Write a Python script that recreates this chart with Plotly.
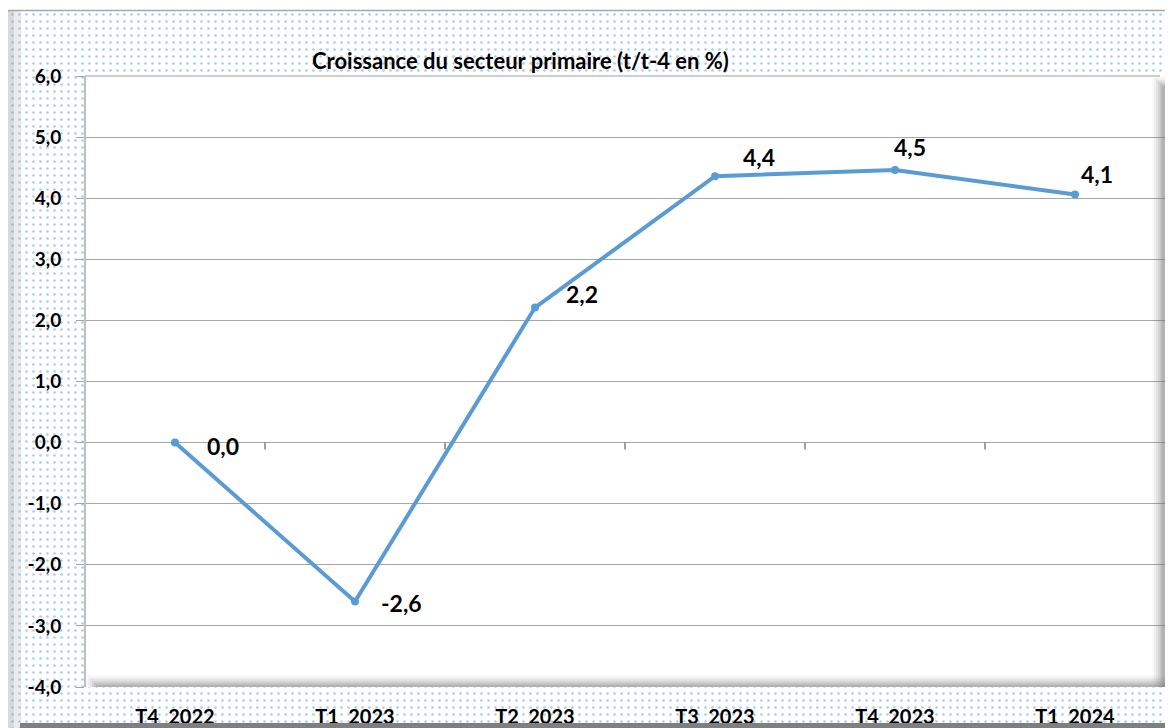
import plotly.graph_objects as go

# --- data ---
quarters = ["T4_2022", "T1_2023", "T2_2023", "T3_2023", "T4_2023", "T1_2024"]
growth = [0.0, -2.6, 2.21, 4.36, 4.46, 4.06]
y_ticks = [-4, -3, -2, -1, 0, 1, 2, 3, 4, 5, 6]
y_tick_text = [f"{v:.1f}".replace(".", ",") for v in y_ticks]
labels = [f"{v:.1f}".replace(".", ",") for v in growth]
title_text = "Croissance du secteur primaire (t/t-4 en %)"

# label offsets in pixels (dx, dy up)
label_dx = [48, 46, 47, 44, 15, 22]
label_dy = [-3, -2, 14, 19, 23, 21]

W, H = 1173, 728
OFF = 8  # the page body has an 8px margin
FONT = "Lato"
BLUE = "#5B9BD5"
GRID = "#A6A6A6"


def px(x):
    return (x - OFF) / W


def py(y):
    return 1 - (y - OFF) / H


fig = go.Figure()

# dotted chart-area background (drawn on a full-size helper subplot)
fig.add_trace(go.Bar(
    x=[0], y=[1], width=[1], xaxis="x", yaxis="y",
    marker=dict(color="white", line=dict(width=0),
                pattern=dict(shape=".", fgcolor="#4F95DD", bgcolor="white",
                             size=7, solidity=0.11)),
    hoverinfo="skip", showlegend=False,
))

# the series
fig.add_trace(go.Scatter(
    x=quarters, y=growth, xaxis="x2", yaxis="y2",
    mode="lines+markers",
    line=dict(color=BLUE, width=4),
    marker=dict(color=BLUE, size=8),
    showlegend=False,
))

annotations = [
    dict(x=q, y=v, xref="x2", yref="y2", text=t, showarrow=False,
         xshift=dx, yshift=dy, font=dict(family=FONT, size=23, color="black",
                                         weight="bold"))
    for q, v, t, dx, dy in zip(quarters, growth, labels, label_dx, label_dy)
]
annotations.append(dict(
    x=px(520), y=py(45), xref="paper", yref="paper", text=title_text,
    showarrow=False, font=dict(family=FONT, size=22, color="black", weight="bold"),
))

shapes = []
# small tick marks on the zero line between categories
for i in range(len(quarters) - 1):
    shapes.append(dict(type="line", xref="x2", yref="y2", x0=i + 0.5, x1=i + 0.5,
                       ysizemode="pixel", yanchor=0, y0=0, y1=-7,
                       line=dict(color="#808080", width=1.5), layer="above"))

# plot-area frame / soft shadow
for k, op in enumerate([0.08, 0.14, 0.2, 0.28, 0.36, 0.45]):
    shapes.append(dict(type="rect", xref="paper", yref="paper",
                       x0=px(1152 + 2 * k), x1=px(1165), y0=py(687), y1=py(76 + 2 * k),
                       fillcolor=f"rgba(120,120,120,{op / 2})", line_width=0, layer="above"))
    shapes.append(dict(type="rect", xref="paper", yref="paper",
                       x0=px(86 + 2 * k), x1=px(1165), y0=py(687), y1=py(675 + 2 * k),
                       fillcolor=f"rgba(120,120,120,{op / 2})", line_width=0, layer="above"))
shapes.append(dict(type="line", xref="paper", yref="paper", x0=px(85), x1=px(1160),
                   y0=py(76), y1=py(76), line=dict(color="#BFBFBF", width=1.5), layer="above"))
shapes.append(dict(type="line", xref="paper", yref="paper", x0=px(85), x1=px(85),
                   y0=py(76), y1=py(687), line=dict(color="#BFBFBF", width=2), layer="above"))

# outer chart frame
shapes.append(dict(type="line", xref="paper", yref="paper", x0=px(8), x1=px(1173),
                   y0=py(10.5), y1=py(10.5), line=dict(color="#A6A6A6", width=1.5), layer="above"))
shapes.append(dict(type="rect", xref="paper", yref="paper", x0=px(8), x1=px(14),
                   y0=py(728), y1=py(11), fillcolor="rgba(170,170,170,0.45)", line_width=0, layer="above"))
shapes.append(dict(type="rect", xref="paper", yref="paper", x0=px(14), x1=px(21),
                   y0=py(728), y1=py(11), fillcolor="rgba(190,190,190,0.3)", line_width=0, layer="above"))
shapes.append(dict(type="rect", xref="paper", yref="paper", x0=px(1166), x1=px(1171),
                   y0=py(728), y1=py(12), fillcolor="#7F7F7F", line_width=0, layer="above"))
shapes.append(dict(type="rect", xref="paper", yref="paper", x0=px(20), x1=px(1171),
                   y0=py(728), y1=py(723), fillcolor="#7F7F7F", line_width=0, layer="above"))

fig.update_layout(
    width=W, height=H,
    margin=dict(l=0, r=0, t=0, b=0, pad=0),
    paper_bgcolor="white", plot_bgcolor="white",
    font=dict(family=FONT, color="black"),
    showlegend=False,
    xaxis=dict(domain=[px(9), 1], range=[-0.5, 0.5], visible=False,
               fixedrange=True, automargin=False),
    yaxis=dict(domain=[0, py(11)], range=[0, 1], visible=False,
               fixedrange=True, automargin=False),
    xaxis2=dict(domain=[px(85), px(1165)], anchor="y2", range=[-0.5, len(quarters) - 0.5],
                showgrid=False, zeroline=False, showline=False, ticks="",
                ticklabelstandoff=16, automargin=False,
                tickfont=dict(family=FONT, size=20, color="black", weight="bold")),
    yaxis2=dict(domain=[py(687), py(76)], anchor="x2", range=[-4, 6],
                tickvals=y_ticks, ticktext=y_tick_text, automargin=False,
                showgrid=True, gridcolor=GRID, gridwidth=1, zeroline=False,
                showline=False, ticks="outside", ticklen=8, tickcolor=GRID,
                ticklabelstandoff=11,
                tickfont=dict(family=FONT, size=19, color="black", weight="bold")),
    annotations=annotations,
    shapes=shapes,
)

fig.write_html("out.html")
